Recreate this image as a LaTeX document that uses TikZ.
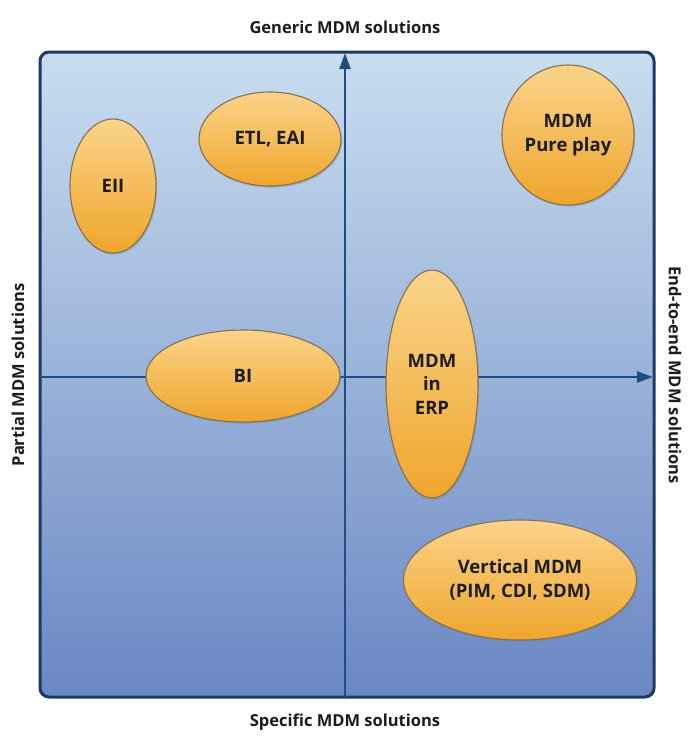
\documentclass[tikz,border=0pt]{standalone}
\usepackage{fontspec}
\setmainfont{Open Sans}
\usetikzlibrary{shapes.geometric,arrows.meta,shadows}
\definecolor{frameblue}{HTML}{1E3A62}
\definecolor{axisblue}{HTML}{1F4E82}
\definecolor{bgtop}{HTML}{C9DDEF}
\definecolor{bgbottom}{HTML}{6A87C3}
\definecolor{blobtop}{HTML}{FAD48A}
\definecolor{blobbottom}{HTML}{EFA52C}
\definecolor{blobedge}{HTML}{857050}
\definecolor{inktext}{HTML}{1C1C1C}
\tikzset{
  blob/.style={ellipse, draw=blobedge, line width=1.1pt, top color=blobtop, bottom color=blobbottom,
    inner sep=0pt, align=center, font=\fontsize{18.5}{23.5}\selectfont\bfseries, text=inktext,
    drop shadow={shadow xshift=1.2pt, shadow yshift=-1.8pt, opacity=0.35}},
  axislabel/.style={font=\fontsize{16.5}{18}\selectfont\bfseries, text=inktext, inner sep=0pt},
  axisline/.style={draw=axisblue, line width=2.6pt, -{Triangle[length=16pt,width=11pt]}}
}
\begin{document}
\begin{tikzpicture}[x=1pt,y=-1pt]
  \useasboundingbox (0,0) rectangle (688,740);
  % quadrant field
  \node[draw=frameblue, line width=3pt, rounded corners=9pt, top color=bgtop, bottom color=bgbottom,
        minimum width=614pt, minimum height=645pt, inner sep=0pt] (field) at (347,374.5) {};
  % axes
  \coordinate (vbot) at (345,697);
  \coordinate (vtop) at (345,53);
  \coordinate (hleft) at (40,377);
  \coordinate (hright) at (653,377);
  \draw[axisline] (vbot) -- (vtop);
  \draw[axisline] (hleft) -- (hright);
  % solution categories
  \node[blob, minimum width=86pt, minimum height=134pt] (eii) at (113,186) {EII};
  \node[blob, minimum width=142pt, minimum height=94pt] (etl) at (270,139) {ETL, EAI};
  \node[blob, minimum width=132pt, minimum height=140pt] (pure) at (568,135) {MDM\\Pure play};
  \node[blob, minimum width=194pt, minimum height=92pt] (bi) at (243,376) {BI};
  \node[blob, minimum width=92pt, minimum height=228pt] (erp) at (432,384) {MDM\\in\\ERP};
  \node[blob, minimum width=233pt, minimum height=120pt] (vert) at (520,580) {Vertical MDM\\(PIM, CDI, SDM)};
  % axis captions
  \node[axislabel] (generic) at (345,27) {Generic MDM solutions};
  \node[axislabel] (specific) at (345,722) {Specific MDM solutions};
  \node[axislabel, rotate=90] (partial) at (18,375) {Partial MDM solutions};
  \node[axislabel, rotate=-90] (endtoend) at (675,375) {End-to-end MDM solutions};
\end{tikzpicture}
\end{document}
